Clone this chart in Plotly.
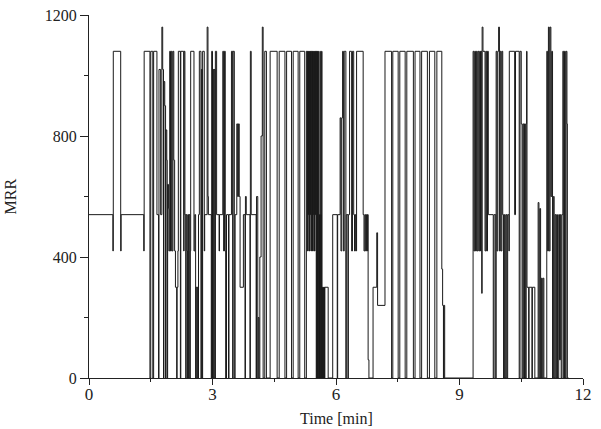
import plotly.graph_objects as go

# (time [min], MRR) step events
seg_start = [(0.00, 540), (0.58, 420), (0.59, 1080), (0.77, 420), (0.78, 540), (1.33, 420)]
seg_b = [(1.34, 1080), (1.48, 0), (1.50, 1080), (1.55, 0), (1.57, 1080), (1.65, 540), (1.69, 0),
         (1.70, 1020), (1.74, 540), (1.77, 1160), (1.79, 1020), (1.81, 0), (1.82, 980), (1.84, 900),
         (1.86, 0), (1.87, 820), (1.89, 720), (1.90, 0), (1.91, 640), (1.93, 560), (1.94, 420),
         (1.96, 1080), (1.98, 420), (2.00, 1080), (2.02, 420), (2.04, 1080), (2.06, 720), (2.08, 420),
         (2.10, 300), (2.13, 0), (2.14, 300), (2.16, 420), (2.17, 1080), (2.22, 0), (2.23, 1080),
         (2.30, 420), (2.31, 1080), (2.33, 540), (2.35, 0), (2.36, 540), (2.38, 420), (2.39, 0),
         (2.40, 540), (2.42, 0), (2.43, 540), (2.45, 0), (2.46, 420)]
seg_c = [(2.47, 1080), (2.55, 420), (2.57, 540), (2.59, 0), (2.60, 300), (2.62, 0), (2.63, 300),
         (2.65, 0), (2.66, 540), (2.68, 1080), (2.72, 0), (2.73, 1020), (2.75, 0), (2.76, 1080),
         (2.80, 420), (2.81, 540), (2.87, 1160), (2.89, 600), (2.90, 540), (2.97, 0), (2.98, 1080),
         (3.00, 0), (3.01, 1020), (3.03, 0), (3.04, 1020), (3.06, 0), (3.07, 1080), (3.10, 540),
         (3.16, 420), (3.17, 540)]
seg_d = [(3.25, 1080), (3.27, 420), (3.29, 1080), (3.31, 420), (3.32, 0), (3.34, 540), (3.39, 0),
         (3.40, 540), (3.46, 1080), (3.49, 0), (3.50, 1080), (3.53, 0), (3.55, 540), (3.59, 840),
         (3.61, 600), (3.63, 840), (3.65, 600), (3.67, 300), (3.75, 540), (3.79, 0), (3.80, 600),
         (3.82, 540), (3.91, 0), (3.92, 1080), (3.94, 540), (4.06, 0), (4.07, 600), (4.10, 0),
         (4.11, 200), (4.13, 0), (4.15, 400), (4.18, 800), (4.21, 1160), (4.23, 0), (4.27, 1080),
         (4.31, 0)]
seg_e = [(4.40, 1080), (4.57, 0), (4.62, 1080), (4.76, 0), (4.80, 1080), (4.92, 0), (4.96, 1080),
         (5.08, 0), (5.12, 1080), (5.24, 0), (5.28, 1080), (5.30, 420), (5.31, 1080), (5.32, 540),
         (5.33, 1080), (5.34, 420), (5.35, 1080), (5.36, 420), (5.37, 1080), (5.38, 540), (5.39, 1080),
         (5.40, 420), (5.41, 1080), (5.42, 420), (5.43, 1080), (5.44, 540), (5.45, 1080), (5.46, 420),
         (5.47, 1080), (5.48, 420), (5.49, 1080), (5.50, 540), (5.51, 1080), (5.52, 0), (5.53, 1080),
         (5.54, 0), (5.55, 1080), (5.56, 0), (5.57, 1080), (5.58, 0), (5.59, 540), (5.60, 0),
         (5.61, 1080), (5.62, 0), (5.63, 540), (5.64, 0), (5.65, 1080), (5.66, 0), (5.67, 300),
         (5.68, 0), (5.69, 300), (5.70, 0), (5.71, 300), (5.72, 0), (5.73, 300), (5.81, 0)]
seg_f = [(5.92, 540), (6.03, 0), (6.04, 540), (6.10, 860), (6.12, 420), (6.14, 860), (6.16, 1080),
         (6.18, 420), (6.20, 1080), (6.24, 0), (6.25, 540), (6.29, 0), (6.30, 540), (6.33, 1080),
         (6.38, 420), (6.40, 1080), (6.43, 540), (6.45, 420), (6.47, 540), (6.49, 420), (6.50, 1080),
         (6.66, 540), (6.68, 420), (6.70, 540), (6.72, 420), (6.74, 540), (6.76, 420), (6.77, 540),
         (6.78, 60), (6.80, 0), (6.90, 300), (6.99, 480), (7.01, 240)]
seg_g = [(7.19, 1080), (7.35, 0), (7.38, 1080), (7.51, 0), (7.55, 1080), (7.68, 0), (7.72, 1080),
         (7.88, 0), (7.92, 1080), (8.04, 0), (8.08, 1080), (8.22, 0), (8.27, 1080), (8.40, 0),
         (8.45, 1080), (8.57, 360), (8.59, 240), (8.61, 0), (8.62, 240), (8.64, 0)]
seg_h = [(9.33, 1080), (9.35, 420), (9.37, 1080), (9.39, 420), (9.41, 1080), (9.43, 420), (9.45, 1080),
         (9.47, 420), (9.49, 1080), (9.51, 420), (9.52, 1080), (9.54, 280), (9.55, 1160), (9.57, 1080),
         (9.62, 420), (9.64, 1080), (9.66, 420), (9.68, 1080), (9.70, 540), (9.82, 0), (9.84, 540),
         (9.88, 0), (9.89, 1080), (9.91, 420), (9.93, 1080), (9.95, 1160), (9.97, 420), (9.99, 1080),
         (10.01, 420), (10.03, 1080), (10.05, 540), (10.07, 0), (10.09, 540), (10.11, 0), (10.13, 540),
         (10.15, 0), (10.17, 540), (10.20, 420), (10.21, 1080), (10.34, 540), (10.36, 1080), (10.45, 0),
         (10.47, 1080), (10.50, 840), (10.52, 0), (10.54, 840), (10.56, 0), (10.58, 840), (10.60, 0),
         (10.62, 840), (10.63, 1080), (10.64, 300), (10.68, 0), (10.69, 300), (10.76, 0), (10.77, 300),
         (10.83, 0), (10.91, 580), (10.93, 0), (10.95, 560), (10.97, 0), (10.99, 330), (11.01, 0),
         (11.03, 330), (11.05, 0), (11.12, 1080), (11.14, 420), (11.16, 1160), (11.18, 420),
         (11.20, 1160), (11.22, 600), (11.24, 1080), (11.26, 0), (11.28, 600), (11.30, 0), (11.32, 540),
         (11.34, 0), (11.36, 540), (11.38, 0), (11.41, 540), (11.43, 60), (11.45, 540), (11.47, 0),
         (11.49, 540), (11.51, 1080), (11.53, 0), (11.55, 1080), (11.57, 0), (11.59, 1080), (11.61, 840),
         (11.62, 0), (11.65, 0)]

x_ticks = [0, 3, 6, 9, 12]
y_ticks = [0, 400, 800, 1200]

events = seg_start + seg_b + seg_c + seg_d + seg_e + seg_f + seg_g + seg_h
time_min = [e[0] for e in events]
mrr = [e[1] for e in events]

FONT = "Liberation Serif"

fig = go.Figure()
fig.add_trace(go.Scatter(x=time_min, y=mrr, mode="lines", line=dict(color="#1a1a1a", width=1, shape="hv"),
                         showlegend=False, hoverinfo="skip"))

fig.update_layout(
    width=601, height=429,
    margin=dict(l=89, r=18, t=15, b=51),
    paper_bgcolor="white", plot_bgcolor="white",
    font=dict(family=FONT, size=16, color="#222"),
    xaxis=dict(range=[0, 12], tickvals=x_ticks, ticktext=[str(v) for v in x_ticks],
               showline=True, linecolor="#222", linewidth=1, showgrid=False, zeroline=False,
               ticks="outside", ticklen=6, tickcolor="#222", tickwidth=1, ticklabelstandoff=-5,
               minor=dict(ticks="outside", ticklen=3, dtick=1.5, tickcolor="#222", showgrid=False),
               tickfont=dict(family=FONT, size=17, color="#222"), automargin=False),
    yaxis=dict(range=[0, 1200], tickvals=y_ticks, ticktext=[str(v) for v in y_ticks],
               showline=True, linecolor="#222", linewidth=1, showgrid=False, zeroline=False,
               ticks="outside", ticklen=8, tickcolor="#222", tickwidth=1,
               minor=dict(ticks="outside", ticklen=4, dtick=200, tickcolor="#222", showgrid=False),
               tickfont=dict(family=FONT, size=16, color="#222"), automargin=False),
    annotations=[
        dict(text="MRR", xref="paper", yref="paper", x=(10 - 89) / 494, y=0.5, textangle=-90,
             showarrow=False, font=dict(family=FONT, size=16, color="#222"),
             xanchor="center", yanchor="middle"),
        dict(text="Time [min]", xref="paper", yref="paper", x=0.5, y=-(418 - 378) / 363,
             showarrow=False, font=dict(family=FONT, size=16, color="#222"),
             xanchor="center", yanchor="middle"),
    ],
)

fig.write_html("out.html")
